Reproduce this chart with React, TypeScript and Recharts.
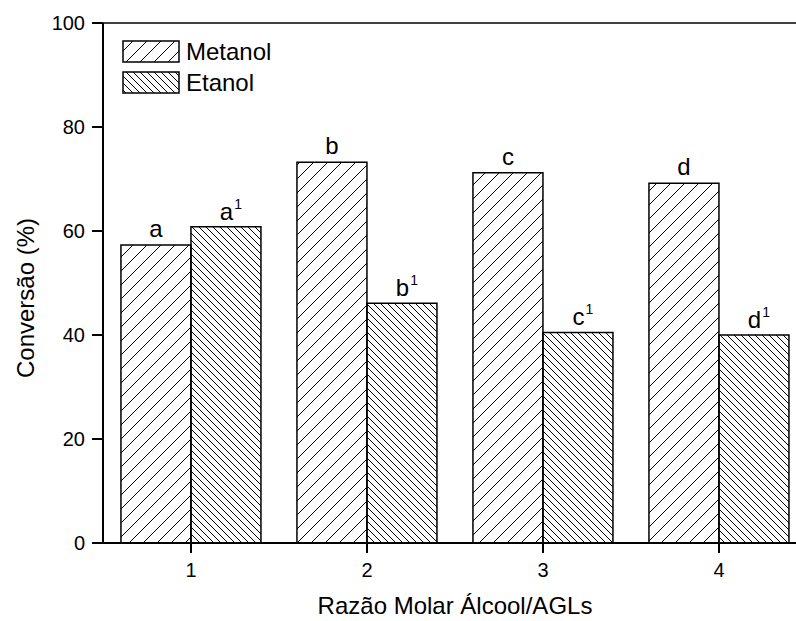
import { Bar, BarChart, LabelList, Legend, XAxis, YAxis } from 'recharts';

const ratios = ['1', '2', '3', '4'];
const ratioPositions = [1, 2, 3, 4];
const metanolValues = [57.3, 73.2, 71.2, 69.2];
const etanolValues = [60.8, 46.1, 40.5, 40.0];
const metanolLetters = ['a', 'b', 'c', 'd'];
const etanolLetters = ['a', 'b', 'c', 'd'];
const etanolSup = '1';
const seriesOrder = ['metanol', 'etanol'];
const yTicks = [0, 20, 40, 60, 80, 100];
const topTicks = [1, 1.5, 2, 2.5, 3, 3.5, 4];

const data = ratios.map((ratio, i) => ({
  ratio,
  pos: ratioPositions[i],
  metanol: metanolValues[i],
  etanol: etanolValues[i],
  metLabel: metanolLetters[i],
  etLabel: etanolLetters[i]
}));

const FONT = '"Liberation Sans", Arial, Helvetica, sans-serif';
const patternFor: Record<string, string> = { metanol: 'url(#hatchMet)', etanol: 'url(#hatchEt)' };

const MetLabel = (props: any) => {
  const { x, y, width, value } = props;
  return (
    <text x={x + width / 2} y={y - 8} textAnchor="middle" fontSize={24} fontFamily={FONT} fill="#000">
      {value}
    </text>
  );
};

const EtLabel = (props: any) => {
  const { x, y, width, value } = props;
  return (
    <text x={x + width / 2 + 5} y={y - 7} textAnchor="middle" fontSize={24} fontFamily={FONT} fill="#000">
      {value}
      <tspan fontSize={14} dx={1} dy={-11}>
        {etanolSup}
      </tspan>
    </text>
  );
};

const renderLegend = (props: any) => {
  const items = [...(props.payload || [])].sort(
    (a: any, b: any) => seriesOrder.indexOf(a.dataKey) - seriesOrder.indexOf(b.dataKey)
  );
  return (
    <svg width={170} height={58} style={{ display: 'block' }}>
      {items.map((item: any, i: number) => (
        <g key={item.value}>
          <rect
            x={2}
            y={2 + i * 31}
            width={56}
            height={21}
            fill={patternFor[item.dataKey]}
            stroke="#000"
            strokeWidth={1.5}
          />
          <text x={65} y={21 + i * 31} fontSize={24} fontFamily={FONT} fill="#000">
            {item.value}
          </text>
        </g>
      ))}
    </svg>
  );
};

const YTitle = (props: any) => {
  const vb = props.viewBox || {};
  const cx = vb.x + 25;
  const cy = vb.y + vb.height / 2 + 15;
  return (
    <text
      x={cx}
      y={cy}
      transform={`rotate(-90, ${cx}, ${cy})`}
      textAnchor="middle"
      dominantBaseline="central"
      fontSize={24}
      fontFamily={FONT}
      fill="#000"
    >
      Conversão (%)
    </text>
  );
};

export default function App() {
  return (
    <div
      style={{
        position: 'fixed',
        left: 0,
        top: 0,
        width: 796,
        height: 621,
        overflow: 'hidden',
        background: '#fff'
      }}
    >
      <BarChart
        width={820}
        height={621}
        data={data}
        margin={{ top: 23, right: 13, left: 0, bottom: 0 }}
        barCategoryGap="10.2%"
        barGap={0}
      >
        <defs>
          <pattern id="hatchMet" patternUnits="userSpaceOnUse" width={14} height={14}>
            <path d="M0,14 L14,0 M-3.5,3.5 L3.5,-3.5 M10.5,17.5 L17.5,10.5" stroke="#000" strokeWidth={1} />
          </pattern>
          <pattern id="hatchEt" patternUnits="userSpaceOnUse" width={7} height={7}>
            <path d="M0,0 L7,7 M-1.75,5.25 L1.75,8.75 M5.25,-1.75 L8.75,1.75" stroke="#000" strokeWidth={1} />
          </pattern>
        </defs>
        <XAxis
          xAxisId="bottom"
          dataKey="ratio"
          height={78}
          tickSize={10}
          tickMargin={10}
          axisLine={{ stroke: '#000', strokeWidth: 2 }}
          tickLine={{ stroke: '#000', strokeWidth: 2 }}
          tick={{ fill: '#000', fontSize: 20, fontFamily: FONT }}
          label={{
            value: 'Razão Molar Álcool/AGLs',
            position: 'insideBottom',
            offset: 7,
            fill: '#000',
            fontSize: 24,
            fontFamily: FONT
          }}
        />
        <XAxis
          xAxisId="top"
          orientation="top"
          type="number"
          dataKey="pos"
          domain={[0.5, 4.5]}
          ticks={topTicks}
          height={3}
          mirror
          tick={false}
          tickSize={2}
          axisLine={{ stroke: '#000', strokeWidth: 1.5 }}
          tickLine={{ stroke: '#000', strokeWidth: 1 }}
        />
        <YAxis
          domain={[0, 100]}
          ticks={yTicks}
          interval={0}
          width={103}
          tickSize={11}
          tickMargin={7}
          axisLine={{ stroke: '#000', strokeWidth: 2 }}
          tickLine={{ stroke: '#000', strokeWidth: 2 }}
          tick={{ fill: '#000', fontSize: 20, fontFamily: FONT }}
          label={<YTitle />}
        />
        <Legend
          layout="vertical"
          align="center"
          verticalAlign="middle"
          wrapperStyle={{ left: 121, top: 39, width: 170 }}
          content={renderLegend}
        />
        <Bar
          xAxisId="bottom"
          dataKey="metanol"
          name="Metanol"
          fill="url(#hatchMet)"
          stroke="#000"
          strokeWidth={1.5}
          isAnimationActive={false}
        >
          <LabelList dataKey="metLabel" content={<MetLabel />} />
        </Bar>
        <Bar
          xAxisId="bottom"
          dataKey="etanol"
          name="Etanol"
          fill="url(#hatchEt)"
          stroke="#000"
          strokeWidth={1.5}
          isAnimationActive={false}
        >
          <LabelList dataKey="etLabel" content={<EtLabel />} />
        </Bar>
      </BarChart>
    </div>
  );
}
